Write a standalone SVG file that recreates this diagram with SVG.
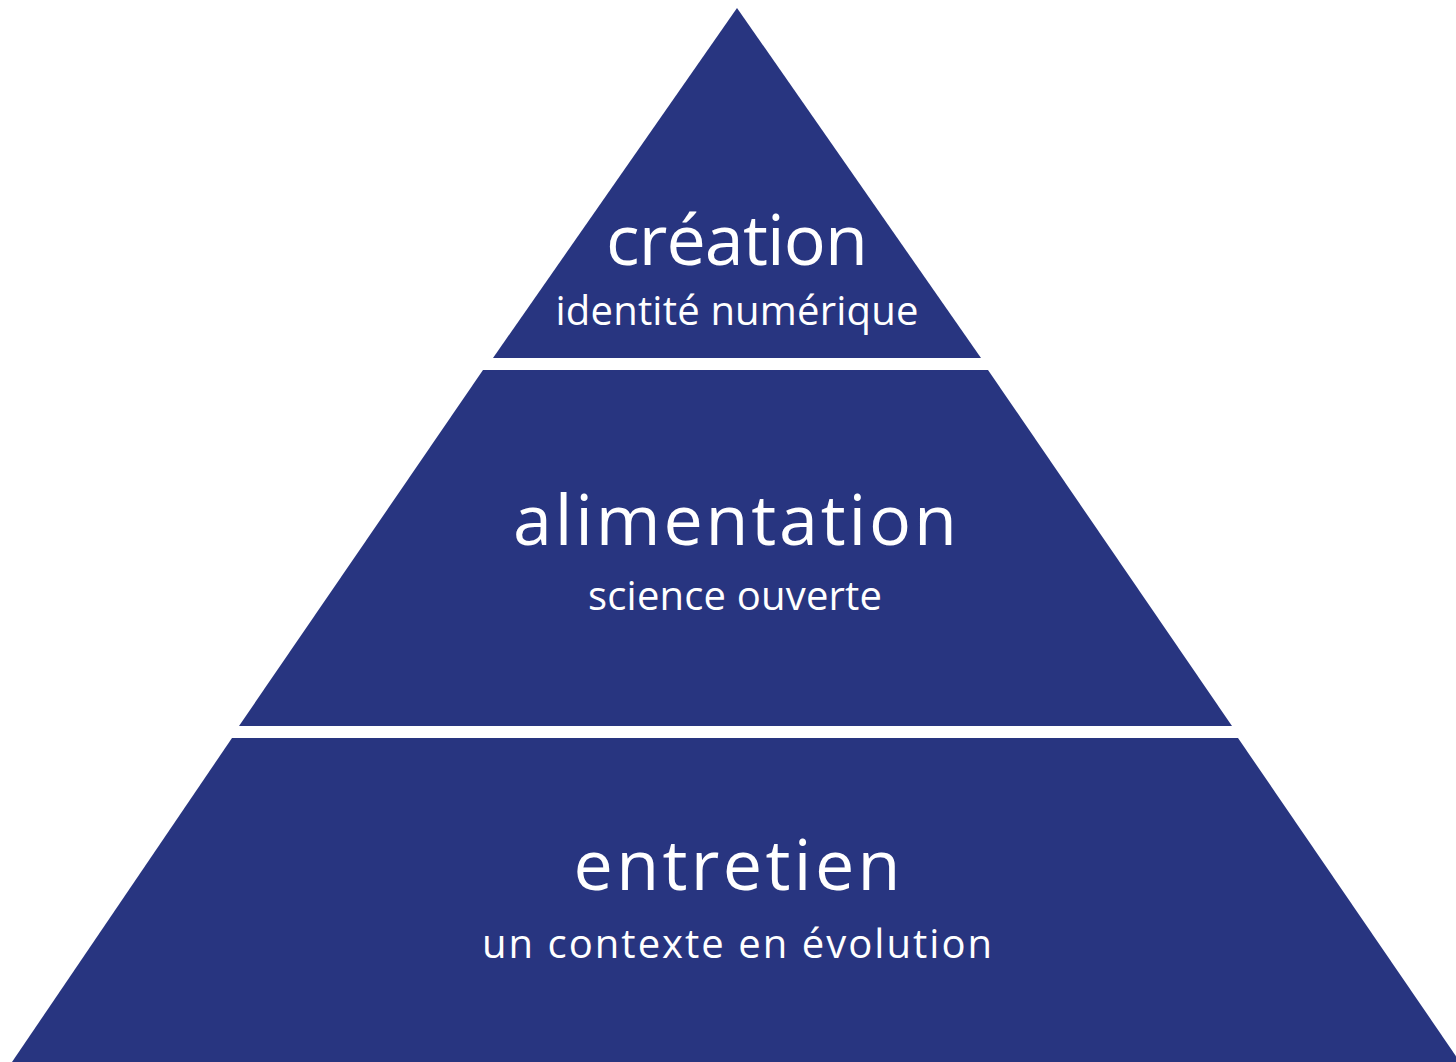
<svg xmlns="http://www.w3.org/2000/svg" width="1456" height="1062" viewBox="0 0 1456 1062">
<style>
.tier{fill:#283580}
.t{font-family:"Open Sans","Noto Sans",sans-serif;fill:#ffffff;text-anchor:middle}
.big{font-size:70px}
.small{font-size:40px}
</style>
<rect width="1456" height="1062" fill="#ffffff"/>
<g id="tier-creation">
<polygon class="tier" points="737,8 981,358 493,358"/>
<text class="t big" x="737" y="265" textLength="262" lengthAdjust="spacing">création</text>
<text class="t small" x="737" y="325" textLength="363" lengthAdjust="spacing">identité numérique</text>
</g>
<g id="tier-alimentation">
<polygon class="tier" points="483,370 988,370 1232,726 239,726"/>
<text class="t big" x="735" y="545" textLength="444" lengthAdjust="spacing">alimentation</text>
<text class="t small" x="735" y="610" textLength="294" lengthAdjust="spacing">science ouverte</text>
</g>
<g id="tier-entretien">
<polygon class="tier" points="232,738 1238,738 1460,1062 12,1062"/>
<text class="t big" x="737" y="890" textLength="327" lengthAdjust="spacing">entretien</text>
<text class="t small" x="737" y="958" textLength="510" lengthAdjust="spacing">un contexte en évolution</text>
</g>
<g id="connectors"></g>
</svg>
